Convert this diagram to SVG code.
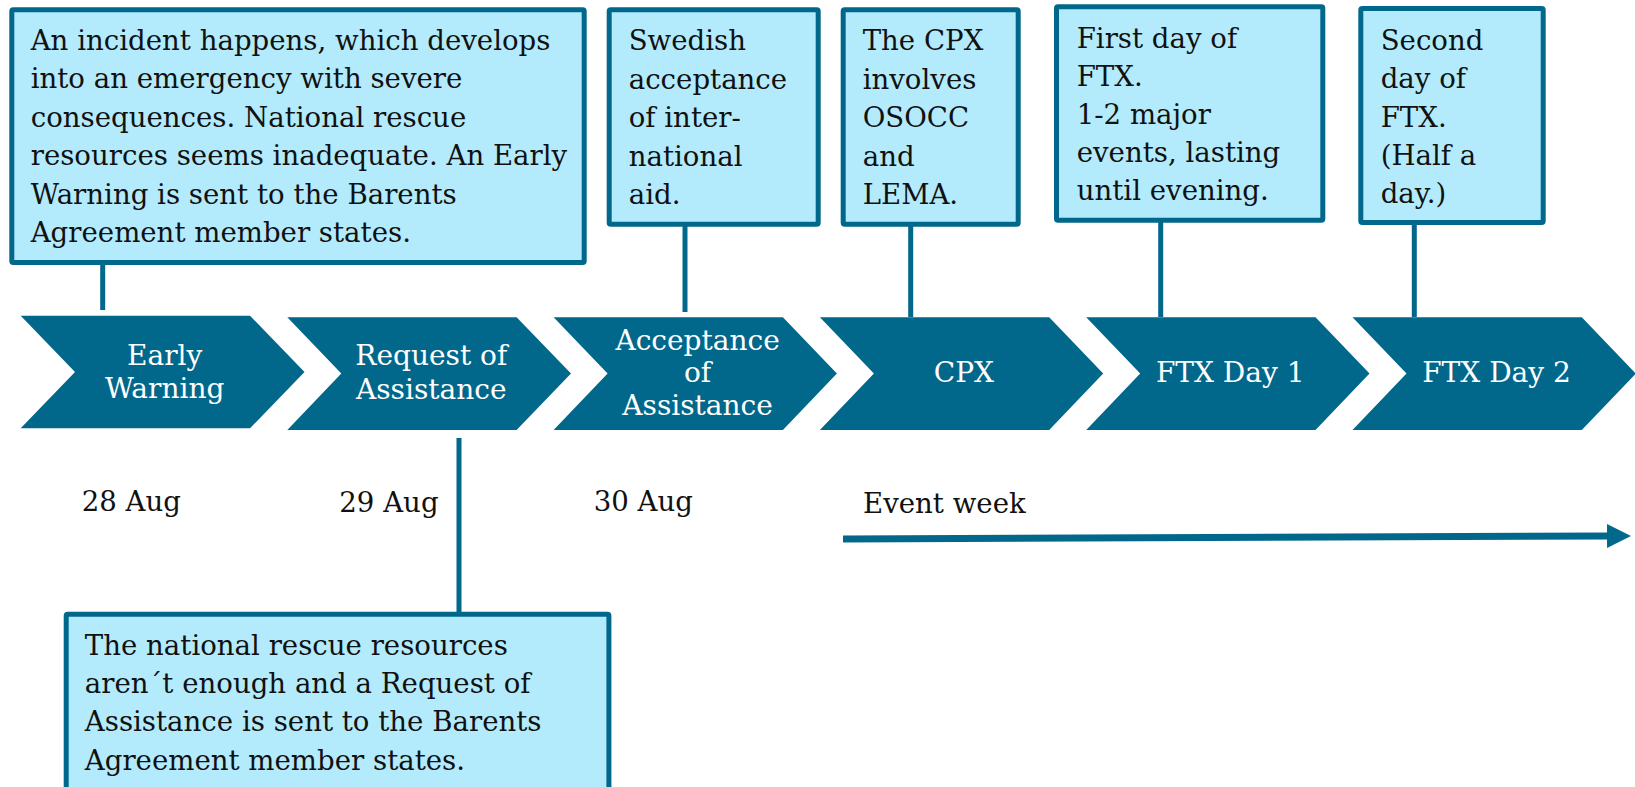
<svg xmlns="http://www.w3.org/2000/svg" width="1635" height="787" viewBox="0 0 1635 787">
  <style>
    .box { fill: #B3EBFD; stroke: #02688B; stroke-width: 5; }
    .chev { fill: #02688B; }
    .conn { stroke: #02688B; stroke-width: 5; fill: none; }
    .t { font-family: "DejaVu Serif", "Liberation Serif", serif; font-size: 27.6px; fill: #111; }
    .ct { font-family: "DejaVu Serif", "Liberation Serif", serif; font-size: 28px; fill: #ffffff; text-anchor: middle; }
  </style>
  <defs>
    <marker id="arrow" markerUnits="userSpaceOnUse" viewBox="0 0 24 24" markerWidth="24" markerHeight="24" refX="0" refY="12" orient="auto">
      <path d="M0,0 L24,12 L0,24 z" fill="#02688B"/>
    </marker>
  </defs>

  <g id="connectors">
    <line class="conn" x1="102.7" y1="264" x2="102.7" y2="310"/>
    <line class="conn" x1="685" y1="226" x2="685" y2="312"/>
    <line class="conn" x1="910.7" y1="226" x2="910.7" y2="317"/>
    <line class="conn" x1="1160.7" y1="222" x2="1160.7" y2="317"/>
    <line class="conn" x1="1414.3" y1="224" x2="1414.3" y2="317"/>
    <line class="conn" x1="459" y1="438" x2="459" y2="613"/>
    <line stroke="#02688B" stroke-width="7" x1="843" y1="539" x2="1607" y2="536" marker-end="url(#arrow)"/>
  </g>

  <g id="chevron-early-warning">
    <polygon class="chev" points="20.7,315.7 250,315.7 304.5,372 250,428.3 20.7,428.3 75,372"/>
    <text class="ct"><tspan x="164.7" y="365">Early</tspan><tspan x="164.7" y="398">Warning</tspan></text>
  </g>
  <g id="chevron-request">
    <polygon class="chev" points="287.3,317.3 516.6,317.3 571,373.6 516.6,430 287.3,430 341.3,373.6"/>
    <text class="ct"><tspan x="431.3" y="365">Request of</tspan><tspan x="431.3" y="399">Assistance</tspan></text>
  </g>
  <g id="chevron-acceptance">
    <polygon class="chev" points="553.6,317.3 782.9,317.3 836.9,373.6 782.9,430 553.6,430 607.6,373.6"/>
    <text class="ct"><tspan x="697.6" y="350">Acceptance</tspan><tspan x="697.6" y="382">of</tspan><tspan x="697.6" y="415">Assistance</tspan></text>
  </g>
  <g id="chevron-cpx">
    <polygon class="chev" points="819.9,317.3 1049.2,317.3 1103.2,373.6 1049.2,430 819.9,430 873.9,373.6"/>
    <text class="ct" x="963.9" y="382">CPX</text>
  </g>
  <g id="chevron-ftx1">
    <polygon class="chev" points="1086.2,317.3 1315.5,317.3 1369.5,373.6 1315.5,430 1086.2,430 1140.2,373.6"/>
    <text class="ct" x="1230.2" y="382">FTX Day 1</text>
  </g>
  <g id="chevron-ftx2">
    <polygon class="chev" points="1352.5,317.3 1581.8,317.3 1635.8,373.6 1581.8,430 1352.5,430 1406.5,373.6"/>
    <text class="ct" x="1496.5" y="382">FTX Day 2</text>
  </g>

  <g id="box-early-warning">
    <rect class="box" x="11.8" y="9.8" width="572.4" height="252.7" rx="1.5"/>
    <text class="t">
      <tspan x="30.7" y="50">An incident happens, which develops</tspan>
      <tspan x="30.7" y="88.4">into an emergency with severe</tspan>
      <tspan x="30.7" y="126.8">consequences. National rescue</tspan>
      <tspan x="30.7" y="165.2">resources seems inadequate. An Early</tspan>
      <tspan x="30.7" y="203.6">Warning is sent to the Barents</tspan>
      <tspan x="30.7" y="242">Agreement member states.</tspan>
    </text>
  </g>
  <g id="box-acceptance">
    <rect class="box" x="609.2" y="9.8" width="209" height="214.4" rx="1.5"/>
    <text class="t">
      <tspan x="628.7" y="50">Swedish</tspan>
      <tspan x="628.7" y="88.5">acceptance</tspan>
      <tspan x="628.7" y="127">of inter-</tspan>
      <tspan x="628.7" y="165.5">national</tspan>
      <tspan x="628.7" y="204">aid.</tspan>
    </text>
  </g>
  <g id="box-cpx">
    <rect class="box" x="843.2" y="9.8" width="175" height="214.4" rx="1.5"/>
    <text class="t">
      <tspan x="862.7" y="50">The CPX</tspan>
      <tspan x="862.7" y="88.5">involves</tspan>
      <tspan x="862.7" y="127">OSOCC</tspan>
      <tspan x="862.7" y="165.5">and</tspan>
      <tspan x="862.7" y="204">LEMA.</tspan>
    </text>
  </g>
  <g id="box-ftx1">
    <rect class="box" x="1056.5" y="6.8" width="266.3" height="213.4" rx="1.5"/>
    <text class="t">
      <tspan x="1076.7" y="48.3">First day of</tspan>
      <tspan x="1076.7" y="86.3">FTX.</tspan>
      <tspan x="1076.7" y="124.3">1-2 major</tspan>
      <tspan x="1076.7" y="162.3">events, lasting</tspan>
      <tspan x="1076.7" y="200.3">until evening.</tspan>
    </text>
  </g>
  <g id="box-ftx2">
    <rect class="box" x="1360.8" y="8.5" width="182.4" height="214" rx="1.5"/>
    <text class="t">
      <tspan x="1380.7" y="50">Second</tspan>
      <tspan x="1380.7" y="88.3">day of</tspan>
      <tspan x="1380.7" y="126.6">FTX.</tspan>
      <tspan x="1380.7" y="164.9">(Half a</tspan>
      <tspan x="1380.7" y="203.2">day.)</tspan>
    </text>
  </g>
  <g id="box-request">
    <rect class="box" x="66.2" y="614.2" width="542.7" height="180" rx="1.5"/>
    <text class="t">
      <tspan x="84.8" y="655">The national rescue resources</tspan>
      <tspan x="84.8" y="693.2">aren´t enough and a Request of</tspan>
      <tspan x="84.8" y="731.4">Assistance is sent to the Barents</tspan>
      <tspan x="84.8" y="769.6">Agreement member states.</tspan>
    </text>
  </g>

  <g id="dates">
    <text class="t" x="81.7" y="510.5">28 Aug</text>
    <text class="t" x="339.3" y="511.5">29 Aug</text>
    <text class="t" x="593.7" y="510.7">30 Aug</text>
    <text class="t" x="863" y="513.3">Event week</text>
  </g>
</svg>
